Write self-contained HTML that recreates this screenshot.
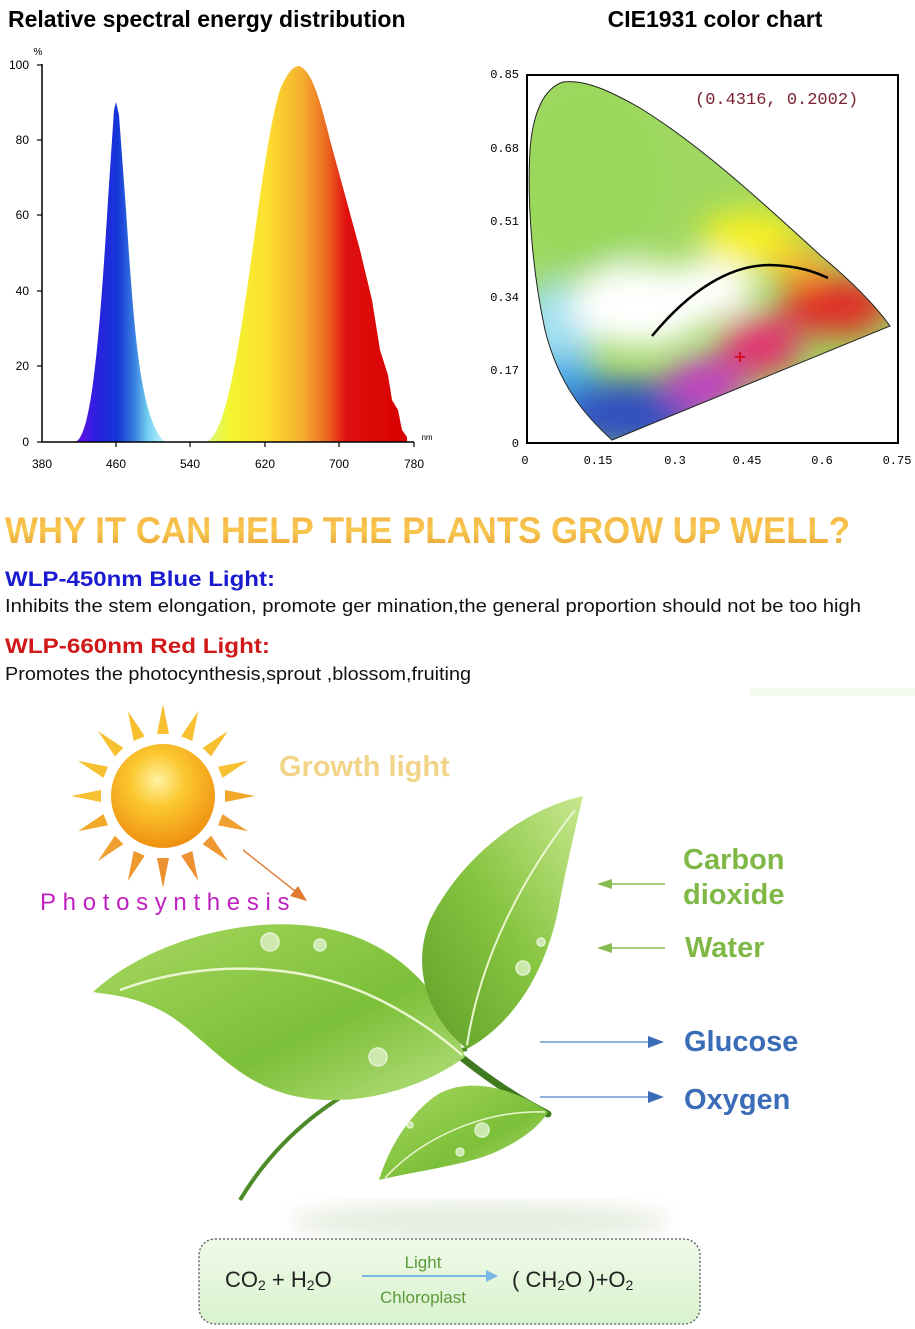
<!DOCTYPE html>
<html><head><meta charset="utf-8"><style>
html,body{margin:0;padding:0;background:#fff;}
svg{display:block;}
text{font-family:"Liberation Sans",sans-serif;}
text.m{font-family:"Liberation Mono",monospace;}
</style></head><body>
<svg width="915" height="1329" viewBox="0 0 915 1329" xmlns="http://www.w3.org/2000/svg">
<defs>
<linearGradient id="gb" x1="75" y1="0" x2="160" y2="0" gradientUnits="userSpaceOnUse">
<stop offset="0" stop-color="#6a10e0"/><stop offset="0.25" stop-color="#2a20e0"/><stop offset="0.5" stop-color="#1535d8"/><stop offset="0.7" stop-color="#3a80e0"/><stop offset="0.85" stop-color="#70cdf0"/><stop offset="1" stop-color="#b0ecf8"/></linearGradient>
<linearGradient id="gr" x1="205" y1="0" x2="407" y2="0" gradientUnits="userSpaceOnUse">
<stop offset="0" stop-color="#d8f880"/><stop offset="0.12" stop-color="#f2f530"/><stop offset="0.3" stop-color="#fde030"/><stop offset="0.48" stop-color="#f5b030"/><stop offset="0.6" stop-color="#ec6a20"/><stop offset="0.7" stop-color="#e01010"/><stop offset="1" stop-color="#d80000"/></linearGradient>
<linearGradient id="gh" x1="0" y1="0" x2="0" y2="1">
<stop offset="0" stop-color="#f5b040"/><stop offset="0.5" stop-color="#f7c850"/><stop offset="1" stop-color="#e89a30"/></linearGradient>
<radialGradient id="gs" cx="0.45" cy="0.35" r="0.65">
<stop offset="0" stop-color="#fff2a0"/><stop offset="0.4" stop-color="#fbc830"/><stop offset="1" stop-color="#f09010"/></radialGradient>
<linearGradient id="gl" x1="0" y1="0" x2="1" y2="1">
<stop offset="0" stop-color="#a8d860"/><stop offset="0.6" stop-color="#7cbf38"/><stop offset="1" stop-color="#b8e080"/></linearGradient>
<linearGradient id="gl2" x1="1" y1="0" x2="0" y2="1">
<stop offset="0" stop-color="#c8e890"/><stop offset="0.5" stop-color="#86c440"/><stop offset="1" stop-color="#5fa028"/></linearGradient>
<linearGradient id="gf" x1="0" y1="0" x2="0" y2="1">
<stop offset="0" stop-color="#f0faea"/><stop offset="1" stop-color="#d8f2cc"/></linearGradient>
<clipPath id="cie"><path d="M612,440 C590,420 560,390 545,330 C532,270 527,200 530,150 C533,110 545,88 563,82 C580,80 600,85 640,108 C700,145 760,200 820,255 C850,280 875,305 890,326 Z"/></clipPath>
<filter id="bl" x="-50%" y="-50%" width="200%" height="200%"><feGaussianBlur stdDeviation="16"/></filter>
<filter id="bl2"><feGaussianBlur stdDeviation="10"/></filter>
</defs>

<text x="8" y="27" font-size="23" font-weight="bold">Relative spectral energy distribution</text>
<path d="M75,442 C92,438 100,330 108,200 L114,110 L116,102 L119,115 L126,210 C134,330 140,420 165,442 Z" fill="url(#gb)"/>
<path d="M205,442 C240,438 255,170 280,90 C288,70 295,66 299,66 C310,70 318,90 330,140 L360,250 L372,300 L380,350 L388,375 L392,400 L398,410 L402,430 L407,437 L407,442 Z" fill="url(#gr)"/>
<path d="M42,64 L42,442 L414,442" fill="none" stroke="#000" stroke-width="1.5"/>
<g stroke="#000" stroke-width="1.2">
<line x1="37" y1="65" x2="42" y2="65"/><line x1="37" y1="140" x2="42" y2="140"/><line x1="37" y1="215" x2="42" y2="215"/><line x1="37" y1="291" x2="42" y2="291"/><line x1="37" y1="366" x2="42" y2="366"/><line x1="37" y1="442" x2="42" y2="442"/>
<line x1="116" y1="442" x2="116" y2="447"/><line x1="190" y1="442" x2="190" y2="447"/><line x1="265" y1="442" x2="265" y2="447"/><line x1="339" y1="442" x2="339" y2="447"/><line x1="414" y1="442" x2="414" y2="447"/>
</g>
<g font-size="12" text-anchor="end">
<text x="29" y="69">100</text><text x="29" y="144">80</text><text x="29" y="219">60</text><text x="29" y="295">40</text><text x="29" y="370">20</text><text x="29" y="446">0</text>
</g>
<text x="38" y="55" font-size="10" text-anchor="middle">%</text>
<text x="427" y="440" font-size="8" text-anchor="middle">nm</text>
<g font-size="12" text-anchor="middle">
<text x="42" y="468">380</text><text x="116" y="468">460</text><text x="190" y="468">540</text><text x="265" y="468">620</text><text x="339" y="468">700</text><text x="414" y="468">780</text>
</g>

<text x="715" y="27" font-size="23" font-weight="bold" text-anchor="middle">CIE1931 color chart</text>
<g clip-path="url(#cie)">
<rect x="520" y="70" width="380" height="380" fill="#9fd860"/>
<g filter="url(#bl)">
<ellipse cx="590" cy="180" rx="70" ry="90" fill="#98d85a"/>
<ellipse cx="750" cy="240" rx="50" ry="30" fill="#f8f020"/>
<ellipse cx="800" cy="265" rx="30" ry="20" fill="#f4b830"/>
<ellipse cx="555" cy="330" rx="40" ry="50" fill="#a0e0f0"/>
<ellipse cx="565" cy="385" rx="35" ry="30" fill="#40a8e8"/>
<ellipse cx="630" cy="415" rx="75" ry="35" fill="#3050c0"/>
<ellipse cx="705" cy="385" rx="40" ry="28" fill="#c040c0"/>
<ellipse cx="760" cy="345" rx="40" ry="30" fill="#e03070"/>
<ellipse cx="835" cy="305" rx="55" ry="30" fill="#e02a28"/>
<ellipse cx="640" cy="305" rx="70" ry="42" fill="#ffffff"/>
<ellipse cx="710" cy="290" rx="45" ry="30" fill="#ffffff"/>
</g>
</g>
<path d="M612,440 C590,420 560,390 545,330 C532,270 527,200 530,150 C533,110 545,88 563,82 C580,80 600,85 640,108 C700,145 760,200 820,255 C850,280 875,305 890,326 Z" fill="none" stroke="#222" stroke-width="1"/>
<path d="M652,336 C690,290 730,265 770,265 C800,266 815,272 828,278" fill="none" stroke="#000" stroke-width="2.5"/>
<path d="M740,352 L740,362 M735,357 L745,357" stroke="#d01020" stroke-width="2"/>
<rect x="527" y="75" width="371" height="368" fill="none" stroke="#000" stroke-width="2"/>
<text class="m" x="695" y="104" font-size="17" fill="#7a2030">(0.4316, 0.2002)</text>
<g font-size="12" text-anchor="end">
<text class="m" x="519" y="78">0.85</text><text class="m" x="519" y="152">0.68</text><text class="m" x="519" y="225">0.51</text><text class="m" x="519" y="301">0.34</text><text class="m" x="519" y="374">0.17</text><text class="m" x="519" y="447">0</text>
</g>
<g font-size="12" text-anchor="middle">
<text class="m" x="525" y="464">0</text><text class="m" x="598" y="464">0.15</text><text class="m" x="675" y="464">0.3</text><text class="m" x="747" y="464">0.45</text><text class="m" x="822" y="464">0.6</text><text class="m" x="897" y="464">0.75</text>
</g>

<text x="5" y="543" font-size="37" font-weight="bold" fill="url(#gh)" textLength="845" lengthAdjust="spacingAndGlyphs">WHY IT CAN HELP THE PLANTS GROW UP WELL?</text>
<text x="5" y="586" font-size="21" font-weight="bold" fill="#1a1ad0" textLength="270" lengthAdjust="spacingAndGlyphs">WLP-450nm Blue Light:</text>
<text x="5" y="612" font-size="18" fill="#111" textLength="856" lengthAdjust="spacingAndGlyphs">Inhibits the stem elongation, promote ger mination,the general proportion should not be too high</text>
<text x="5" y="653" font-size="21" font-weight="bold" fill="#d01818" textLength="265" lengthAdjust="spacingAndGlyphs">WLP-660nm Red Light:</text>
<text x="5" y="680" font-size="18" fill="#111" textLength="466" lengthAdjust="spacingAndGlyphs">Promotes the photocynthesis,sprout ,blossom,fruiting</text>

<rect x="750" y="688" width="165" height="8" fill="#f2faee"/>
<g fill="#f6c030">
<g transform="translate(163,796)">
<polygon points="-6,-62 6,-62 0,-92"/>
<polygon points="-6,-62 6,-62 0,-92" transform="rotate(22.5)"/>
<polygon points="-6,-62 6,-62 0,-92" transform="rotate(45)"/>
<polygon points="-6,-62 6,-62 0,-92" transform="rotate(67.5)"/>
<polygon points="-6,-62 6,-62 0,-92" transform="rotate(90)" fill="#f2a828"/>
<polygon points="-6,-62 6,-62 0,-92" transform="rotate(112.5)" fill="#f0a030"/>
<polygon points="-6,-62 6,-62 0,-92" transform="rotate(135)" fill="#ee9830"/>
<polygon points="-6,-62 6,-62 0,-92" transform="rotate(157.5)" fill="#ec9030"/>
<polygon points="-6,-62 6,-62 0,-92" transform="rotate(180)" fill="#ec9030"/>
<polygon points="-6,-62 6,-62 0,-92" transform="rotate(202.5)" fill="#ee9830"/>
<polygon points="-6,-62 6,-62 0,-92" transform="rotate(225)" fill="#f0a030"/>
<polygon points="-6,-62 6,-62 0,-92" transform="rotate(247.5)" fill="#f2a828"/>
<polygon points="-6,-62 6,-62 0,-92" transform="rotate(270)"/>
<polygon points="-6,-62 6,-62 0,-92" transform="rotate(292.5)"/>
<polygon points="-6,-62 6,-62 0,-92" transform="rotate(315)"/>
<polygon points="-6,-62 6,-62 0,-92" transform="rotate(337.5)"/>
</g>
</g>
<circle cx="163" cy="796" r="52" fill="url(#gs)"/>
<text x="279" y="776" font-size="29" font-weight="bold" fill="#f2d488">Growth light</text>
<text x="40" y="910" font-size="24" fill="#c020c0" letter-spacing="2.5" textLength="252" lengthAdjust="spacing">Photosynthesis</text>
<line x1="243" y1="850" x2="300" y2="895" stroke="#e08040" stroke-width="1.5"/>
<polygon points="307,901 290,896 298,886" fill="#e07a30"/>

<ellipse cx="480" cy="1222" rx="190" ry="20" fill="#e6ede0" filter="url(#bl2)"/>
<path d="M467,1049 C400,1060 300,1100 240,1200" fill="none" stroke="#4d8a28" stroke-width="4"/>
<path d="M461,1057 C490,1080 520,1100 548,1114" fill="none" stroke="#3f7a20" stroke-width="7" stroke-linecap="round"/>
<path d="M93,992 C150,940 240,920 300,925 C380,930 440,980 465,1057 C420,1090 350,1110 290,1095 C230,1080 200,1030 160,1010 C130,995 110,995 93,992 Z" fill="url(#gl)"/>
<path d="M120,990 C200,960 300,960 380,1000 C420,1020 445,1040 462,1055" fill="none" stroke="#eaf6d0" stroke-width="2.5"/>
<path d="M583,796 C520,810 460,860 430,920 C410,970 430,1020 467,1049 C520,1020 550,960 560,900 C568,860 575,830 583,796 Z" fill="url(#gl2)"/>
<path d="M575,810 C520,880 480,960 467,1045" fill="none" stroke="#eaf6d0" stroke-width="2"/>
<path d="M548,1112 C510,1085 460,1075 430,1100 C400,1125 385,1160 379,1180 C420,1170 470,1165 500,1150 C525,1138 540,1125 548,1112 Z" fill="url(#gl)"/>
<path d="M545,1112 C480,1110 420,1140 385,1178" fill="none" stroke="#eaf6d0" stroke-width="1.5"/>
<g fill="#d8efc0" stroke="#f4fbe8" stroke-width="1.5" opacity="0.85">
<circle cx="270" cy="942" r="9"/><circle cx="320" cy="945" r="6"/><circle cx="523" cy="968" r="7"/><circle cx="541" cy="942" r="4"/><circle cx="378" cy="1057" r="9"/><circle cx="482" cy="1130" r="7"/><circle cx="460" cy="1152" r="4"/><circle cx="410" cy="1125" r="3"/>
</g>

<g fill="#80b848" font-weight="bold" font-size="29">
<text x="683" y="869">Carbon</text><text x="683" y="904">dioxide</text><text x="685" y="957">Water</text>
</g>
<g stroke="#88bb50" stroke-width="1.5"><line x1="605" y1="884" x2="665" y2="884"/><line x1="605" y1="948" x2="665" y2="948"/></g>
<polygon points="597,884 612,879 612,889" fill="#88bb50"/><polygon points="597,948 612,943 612,953" fill="#88bb50"/>
<g fill="#3a6cb8" font-weight="bold" font-size="29">
<text x="684" y="1051">Glucose</text><text x="684" y="1109">Oxygen</text>
</g>
<g stroke="#6a9ad0" stroke-width="1.5"><line x1="540" y1="1042" x2="652" y2="1042"/><line x1="540" y1="1097" x2="652" y2="1097"/></g>
<polygon points="664,1042 648,1036 648,1048" fill="#3a6cb8"/><polygon points="664,1097 648,1091 648,1103" fill="#3a6cb8"/>

<rect x="199" y="1239" width="501" height="85" rx="16" fill="url(#gf)" stroke="#556" stroke-width="1.3" stroke-dasharray="2,2"/>
<text x="225" y="1287" font-size="22" fill="#222">CO<tspan font-size="14" dy="3">2</tspan><tspan dy="-3"> + H</tspan><tspan font-size="14" dy="3">2</tspan><tspan dy="-3">O</tspan></text>
<line x1="362" y1="1276" x2="492" y2="1276" stroke="#7ab8e8" stroke-width="2"/>
<polygon points="498,1276 486,1270 486,1282" fill="#7ab8e8"/>
<text x="423" y="1268" font-size="17" fill="#5a9a38" text-anchor="middle">Light</text>
<text x="423" y="1303" font-size="17" fill="#5a9a38" text-anchor="middle">Chloroplast</text>
<text x="512" y="1287" font-size="22" fill="#222">( CH<tspan font-size="14" dy="3">2</tspan><tspan dy="-3">O )+O</tspan><tspan font-size="14" dy="3">2</tspan></text>
</svg>
</body></html>
